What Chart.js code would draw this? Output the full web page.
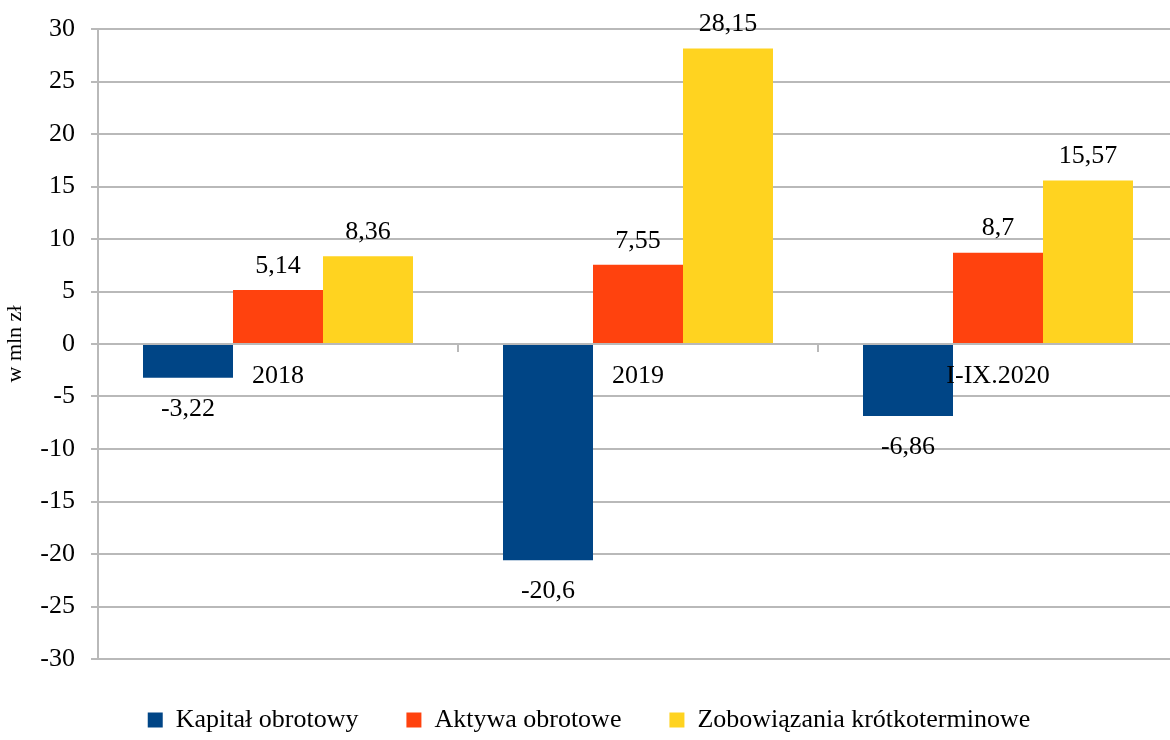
<!DOCTYPE html>
<html><head><meta charset="utf-8">
<script src="https://cdn.jsdelivr.net/npm/chart.js@4.4.1/dist/chart.umd.min.js"></script>
<style>
html,body{margin:0;padding:0;background:#fff;overflow:hidden;}
#wrap{width:1180px;height:740px;position:relative;}
</style></head>
<body><div id="wrap"><canvas id="c" width="1180" height="740"></canvas></div>
<script>
const categories = ['2018', '2019', 'I-IX.2020'];
const kapitalObrotowy = [-3.22, -20.6, -6.86];
const aktywaObrotowe = [5.14, 7.55, 8.7];
const zobowiazaniaKrotkoterminowe = [8.36, 28.15, 15.57];
const seriesNames = ['Kapitał obrotowy', 'Aktywa obrotowe', 'Zobowiązania krótkoterminowe'];
const yMin = -30, yMax = 30, yStep = 5;

const FONT = "'Liberation Serif', 'Times New Roman', serif";
const GRID = '#b9b9b9';
Chart.defaults.font.family = FONT;
Chart.defaults.color = '#000';

const valueLabels = {
  id: 'valueLabels',
  afterDatasetsDraw(chart) {
    const ctx = chart.ctx;
    ctx.save();
    ctx.font = '26px ' + FONT;
    ctx.fillStyle = '#000';
    ctx.textAlign = 'center';
    ctx.textBaseline = 'middle';
    chart.data.datasets.forEach((ds, i) => {
      const meta = chart.getDatasetMeta(i);
      meta.data.forEach((el, j) => {
        const v = ds.data[j];
        const txt = String(v).replace('.', ',');
        const y = v >= 0 ? el.y - 24 : el.y + 31;
        ctx.fillText(txt, el.x, y);
      });
    });
    ctx.restore();
  }
};

const legendHeight = {
  id: 'legendHeight',
  beforeInit(chart) {
    const lg = chart.legend;
    if (!lg) return;
    const orig = lg.fit;
    lg.fit = function () { orig.call(this); this.height = 81; };
  }
};

new Chart(document.getElementById('c'), {
  type: 'bar',
  data: {
    labels: categories,
    datasets: [
      { label: seriesNames[0], data: kapitalObrotowy, backgroundColor: '#004586' },
      { label: seriesNames[1], data: aktywaObrotowe, backgroundColor: '#ff420e' },
      { label: seriesNames[2], data: zobowiazaniaKrotkoterminowe, backgroundColor: '#ffd320' }
    ]
  },
  options: {
    responsive: false,
    animation: false,
    datasets: { bar: { categoryPercentage: 0.75, barPercentage: 1.0 } },
    layout: { padding: { top: 29, right: 2, left: 0, bottom: 0 } },
    plugins: {
      tooltip: { enabled: false },
      legend: {
        position: 'bottom',
        labels: {
          font: { family: FONT, size: 26 },
          color: '#000',
          boxWidth: 15, boxHeight: 15,
          padding: 48
        }
      }
    },
    scales: {
      x: {
        position: { y: 0 },
        grid: { display: true, drawOnChartArea: false, offset: true, tickLength: 7, color: GRID, lineWidth: 2, z: 1 },
        border: { color: GRID, width: 2, z: 1 },
        ticks: { font: { family: FONT, size: 26 }, color: '#000', padding: 10, maxRotation: 0, z: 1 }
      },
      y: {
        min: yMin, max: yMax,
        afterFit(scale) { scale.width = 98; scale.paddingTop = 0; scale.paddingBottom = 0; },
        ticks: { stepSize: yStep, font: { family: FONT, size: 26 }, color: '#000', padding: 16 },
        grid: { color: GRID, lineWidth: 2, tickLength: 7 },
        border: { color: GRID, width: 2 },
        title: { display: true, text: 'w mln zł', font: { family: FONT, size: 22 }, color: '#000', padding: { top: 2, bottom: 0 } }
      }
    }
  },
  plugins: [valueLabels, legendHeight]
});
</script></body></html>
